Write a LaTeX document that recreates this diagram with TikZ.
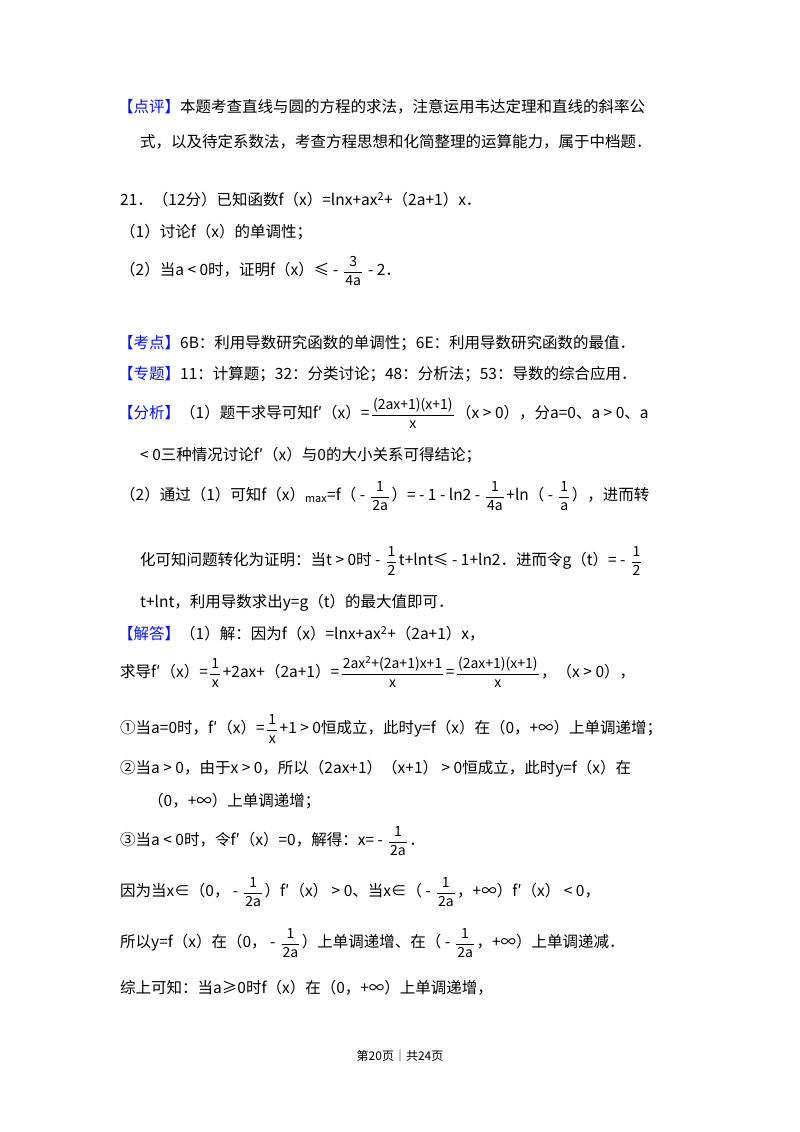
\documentclass[tikz,border=0pt]{standalone}
\usepackage{amsmath}
\usepackage{fontspec}
\setmainfont{Noto Sans CJK SC}
\definecolor{hd}{RGB}{10,20,240}
\newcommand\fr[2]{\,$\vcenter{\hbox{\fontsize{14}{16}\selectfont\setlength\tabcolsep{1pt}\renewcommand\arraystretch{1.15}\begin{tabular}{c}#1\\\hline #2\end{tabular}}}$\,}
\newcommand\hb[1]{{\color{hd}【#1】}}
\newcommand\lt{ < }
\newcommand\gt{ > }
\begin{document}
\begin{tikzpicture}[x=1pt,y=-1pt,
  ln/.style={anchor=west,inner sep=0pt,font=\fontsize{15.5}{18}\selectfont}]
\useasboundingbox[fill=white] (0,0) rectangle (800,1132);
\node[ln] (l1) at (118,107) {\hb{点评}本题考查直线与圆的方程的求法，注意运用韦达定理和直线的斜率公};
\node[ln] (l2) at (140,142) {式，以及待定系数法，考查方程思想和化简整理的运算能力，属于中档题．};
\node[ln] (l3) at (120,200) {21．（12分）已知函数f（x）=lnx+ax\textsuperscript{2}+（2a+1）x．};
\node[ln] (l4) at (120,232) {（1）讨论f（x）的单调性；};
\node[ln] (l5) at (120,272) {（2）当a\lt0时，证明f（x）≤ - \fr{3}{4a} - 2．};
\node[ln] (l6) at (118,343) {\hb{考点}6B：利用导数研究函数的单调性；6E：利用导数研究函数的最值．};
\node[ln] (l7) at (118,374) {\hb{专题}11：计算题；32：分类讨论；48：分析法；53：导数的综合应用．};
\node[ln] (l8) at (118,415) {\hb{分析}（1）题干求导可知f′（x）=\fr{(2ax+1)(x+1)}{x}（x\gt0），分a=0、a\gt0、a};
\node[ln] (l9) at (140,455) {\lt0三种情况讨论f′（x）与0的大小关系可得结论；};
\node[ln] (l10) at (120,497) {（2）通过（1）可知f（x）\textsubscript{max}=f（ - \fr{1}{2a}）= - 1 - ln2 - \fr{1}{4a}+ln（ - \fr{1}{a}），进而转};
\node[ln] (l11) at (140,562) {化可知问题转化为证明：当t\gt0时 - \fr{1}{2}t+lnt≤ - 1+ln2．进而令g（t）= - \fr{1}{2}};
\node[ln] (l12) at (140,603) {t+lnt，利用导数求出y=g（t）的最大值即可．};
\node[ln] (l13) at (118,634) {\hb{解答}（1）解：因为f（x）=lnx+ax\textsuperscript{2}+（2a+1）x，};
\node[ln] (l14) at (120,674) {求导f′（x）=\fr{1}{x}+2ax+（2a+1）=\fr{2ax\textsuperscript{2}+(2a+1)x+1}{x}=\fr{(2ax+1)(x+1)}{x}，（x\gt0），};
\node[ln] (l15) at (120,730) {①当a=0时，f′（x）=\fr{1}{x}+1\gt0恒成立，此时y=f（x）在（0，+∞）上单调递增；};
\node[ln] (l16) at (120,769) {②当a\gt0，由于x\gt0，所以（2ax+1）（x+1）\gt0恒成立，此时y=f（x）在};
\node[ln] (l17) at (148,801) {（0，+∞）上单调递增；};
\node[ln] (l18) at (120,842) {③当a\lt0时，令f′（x）=0，解得：x= - \fr{1}{2a}．};
\node[ln] (l19) at (120,893) {因为当x∈（0， - \fr{1}{2a}）f′（x）\gt0、当x∈（ - \fr{1}{2a}，+∞）f′（x）\lt0，};
\node[ln] (l20) at (120,944) {所以y=f（x）在（0， - \fr{1}{2a}）上单调递增、在（ - \fr{1}{2a}，+∞）上单调递减．};
\node[ln] (l21) at (120,988) {综上可知：当a≥0时f（x）在（0，+∞）上单调递增，};
\node[inner sep=0pt,font=\fontsize{12}{14}\selectfont] (ft) at (400,1056) {第20页｜共24页};
\end{tikzpicture}
\end{document}
